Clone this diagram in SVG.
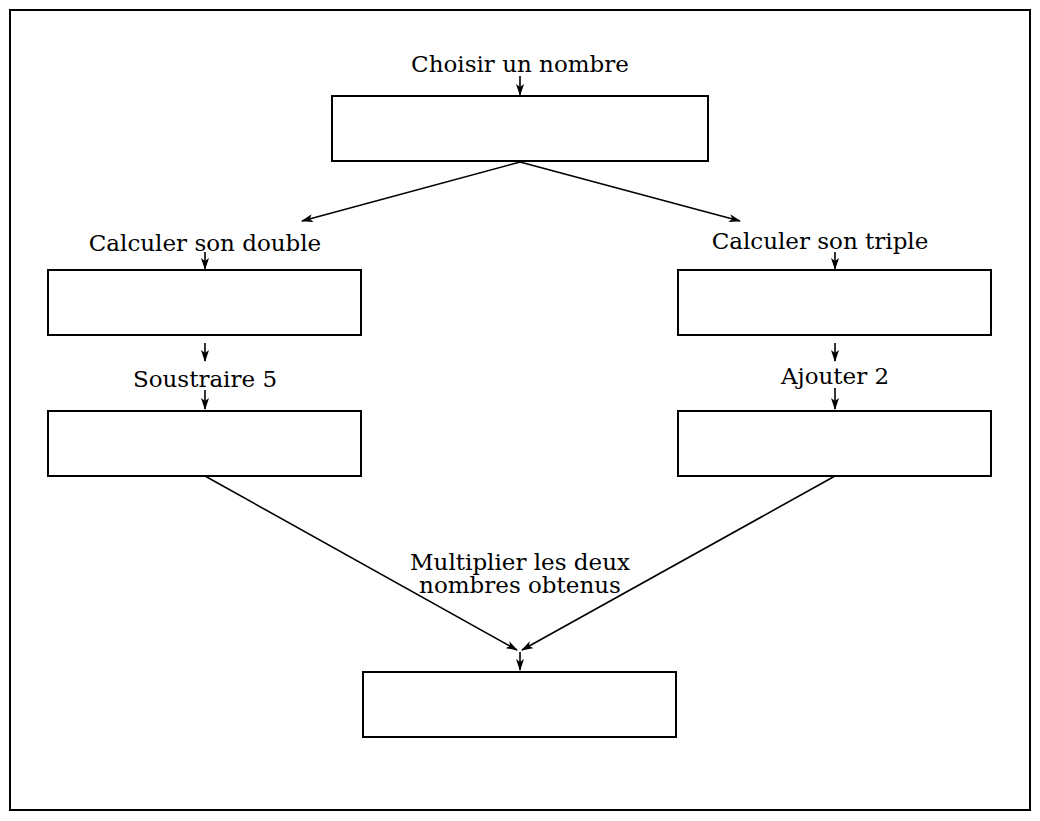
<svg xmlns="http://www.w3.org/2000/svg" width="1040" height="821" viewBox="0 0 1040 821">
<style>
.b{fill:#fff;stroke:#000;stroke-width:2}
.c{stroke:#000;stroke-width:1.6;fill:none}
text{font-family:"DejaVu Serif",serif;font-size:23px;text-anchor:middle;fill:#000}
</style>
<defs><marker id="a" markerWidth="12" markerHeight="8" refX="11" refY="4" orient="auto" markerUnits="userSpaceOnUse"><path d="M0,0 L12,4 L0,8 L3,4 Z" fill="#000"/></marker></defs>
<rect x="0" y="0" width="1040" height="821" fill="#fff"/>
<rect x="10" y="10" width="1020" height="800" fill="none" stroke="#000" stroke-width="2"/>
<g id="n1"><text x="520" y="72">Choisir un nombre</text><rect class="b" x="332" y="96" width="376" height="65"/></g>
<g id="n2"><text x="205" y="251">Calculer son double</text><rect class="b" x="48" y="270" width="313" height="65"/></g>
<g id="n3"><text x="820" y="249">Calculer son triple</text><rect class="b" x="678" y="270" width="313" height="65"/></g>
<g id="n4"><text x="205" y="387">Soustraire 5</text><rect class="b" x="48" y="411" width="313" height="65"/></g>
<g id="n5"><text x="835" y="384">Ajouter 2</text><rect class="b" x="678" y="411" width="313" height="65"/></g>
<g id="n6"><text x="520" y="570">Multiplier les deux</text><text x="520" y="593">nombres obtenus</text><rect class="b" x="363" y="672" width="313" height="65"/></g>
<g id="connectors" class="c" marker-end="url(#a)">
<line x1="520" y1="76" x2="520" y2="95"/>
<line x1="520" y1="162" x2="302" y2="221"/>
<line x1="520" y1="162" x2="740" y2="221"/>
<line x1="205" y1="252" x2="205" y2="269"/>
<line x1="835" y1="252" x2="835" y2="269"/>
<line x1="205" y1="343" x2="205" y2="361"/>
<line x1="205" y1="390" x2="205" y2="409"/>
<line x1="835" y1="343" x2="835" y2="361"/>
<line x1="835" y1="388" x2="835" y2="409"/>
<line x1="205" y1="476" x2="517" y2="650"/>
<line x1="835" y1="476" x2="522" y2="650"/>
<line x1="520" y1="652" x2="520" y2="670"/>
</g>
</svg>
